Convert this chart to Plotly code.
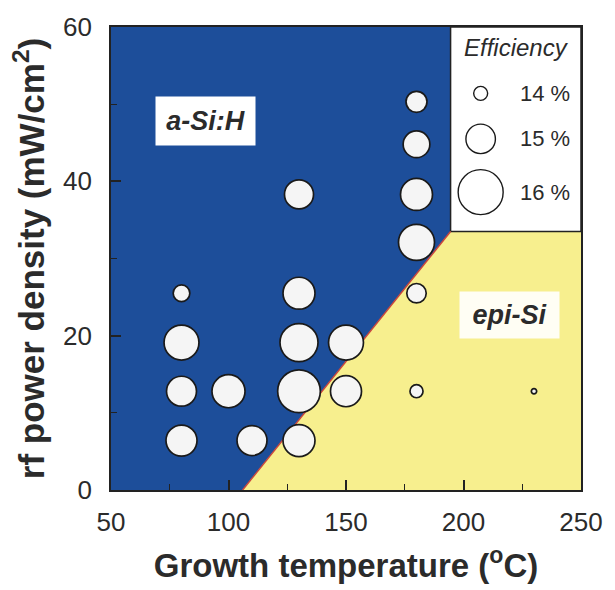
import plotly.graph_objects as go

# ---- data ----
temp_c = [80, 80, 80, 80, 100, 110, 130, 130, 130, 130, 130, 150, 150,
          180, 180, 180, 180, 180, 180, 230]
power = [25.5, 19.1, 12.8, 6.4, 12.8, 6.4, 38.3, 25.5, 19.1, 12.8, 6.4, 19.1, 12.8,
         50.3, 44.8, 38.3, 32.1, 25.5, 12.8, 12.8]
efficiency = [14.17, 15.35, 15.03, 15.10, 15.23, 15.03, 14.97, 15.16, 15.55, 15.85, 15.16,
              15.35, 15.10, 14.45, 14.82, 15.16, 15.42, 14.35, 13.94, 13.44]

legend_eff = [14, 15, 16]
legend_labels = ["14 %", "15 %", "16 %"]

# phase boundary a-Si:H / epi-Si
boundary_x = [106, 194.5]
boundary_y = [0, 33.5]

x_range = [50, 250]
y_range = [0, 60]
x_ticks = [50, 100, 150, 200, 250]
y_ticks = [0, 20, 40, 60]

BLUE = "#1d4e9a"
YELLOW = "#f7ef8e"
FONT = "Liberation Sans, Arial, sans-serif"
TXT = "#2b2b2b"


def size_of(e):
    return 14 + 15.5 * (e - 14)


fig = go.Figure()

# a-Si:H region (blue)
fig.add_trace(go.Scatter(
    x=[x_range[0], boundary_x[0], boundary_x[1], boundary_x[1], x_range[0]],
    y=[y_range[0], boundary_y[0], boundary_y[1], y_range[1], y_range[1]],
    fill="toself", fillcolor=BLUE, mode="lines", line=dict(width=0),
    hoverinfo="skip", showlegend=False))
# epi-Si region (yellow)
fig.add_trace(go.Scatter(
    x=[boundary_x[0], x_range[1], x_range[1], boundary_x[1], boundary_x[0]],
    y=[boundary_y[0], y_range[0], boundary_y[1], boundary_y[1], boundary_y[0]],
    fill="toself", fillcolor=YELLOW, mode="lines", line=dict(width=0),
    hoverinfo="skip", showlegend=False))
# legend box (white)
fig.add_trace(go.Scatter(
    x=[boundary_x[1], x_range[1], x_range[1], boundary_x[1], boundary_x[1]],
    y=[boundary_y[1], boundary_y[1], y_range[1], y_range[1], boundary_y[1]],
    fill="toself", fillcolor="white", mode="lines", line=dict(width=1.5, color="#222"),
    hoverinfo="skip", showlegend=False))
# boundary line (red)
fig.add_trace(go.Scatter(
    x=boundary_x, y=boundary_y, mode="lines",
    line=dict(color="#c9463c", width=1.5), hoverinfo="skip", showlegend=False))

# data bubbles
fig.add_trace(go.Scatter(
    x=temp_c, y=power, mode="markers",
    marker=dict(size=[size_of(e) for e in efficiency], color="#f5f5f5", opacity=1,
                line=dict(color="#1a1a1a", width=1.7)),
    showlegend=False))

# legend bubbles (size key)
legend_x = 207.3
legend_y = [51.4, 45.5, 38.6]
fig.add_trace(go.Scatter(
    x=[legend_x] * 3, y=legend_y, mode="markers",
    marker=dict(size=[size_of(e) for e in legend_eff], color="white", opacity=1,
                line=dict(color="#1a1a1a", width=1.4)),
    showlegend=False, hoverinfo="skip"))

annotations = []
for yy, lab in zip(legend_y, legend_labels):
    annotations.append(dict(x=234.5, y=yy, text=lab, showarrow=False,
                            font=dict(family=FONT, size=22, color=TXT),
                            xanchor="center", yanchor="middle"))
annotations.append(dict(x=222.5, y=57.3, text="<i>Efficiency</i>", showarrow=False,
                        font=dict(family=FONT, size=24, color=TXT),
                        xanchor="center", yanchor="middle"))
annotations.append(dict(x=90.3, y=47.8, text="<b><i>a-Si:H</i></b>", showarrow=False,
                        font=dict(family=FONT, size=27, color=TXT),
                        bgcolor="white", width=97, height=46,
                        xanchor="center", yanchor="middle"))
annotations.append(dict(x=219.5, y=22.7, text="<b><i>epi-Si</i></b>", showarrow=False,
                        font=dict(family=FONT, size=27, color=TXT),
                        bgcolor="rgba(255,255,255,0.9)", width=97, height=44,
                        xanchor="center", yanchor="middle"))

fig.update_layout(
    width=615, height=590,
    margin=dict(l=111, r=27, t=17, b=100),
    paper_bgcolor="white", plot_bgcolor="white",
    annotations=annotations,
    showlegend=False,
    font=dict(family=FONT, color=TXT),
)
fig.update_xaxes(
    range=x_range, tickvals=x_ticks, ticks="inside", ticklen=10, tickwidth=1.5,
    tickcolor="#222", showgrid=False, zeroline=False,
    showline=True, linecolor="#222", linewidth=1.8, mirror=True,
    tickfont=dict(family=FONT, size=26, color=TXT), ticklabelstandoff=8,
    minor=dict(ticks="inside", ticklen=6, tickwidth=1.3, tickcolor="#222",
               tickvals=[75, 125, 175, 225], showgrid=False),
    title=dict(text="<b>Growth temperature (<sup>o</sup>C)</b>",
               font=dict(family=FONT, size=33, color=TXT), standoff=18),
)
fig.update_yaxes(
    range=y_range, tickvals=y_ticks, ticks="inside", ticklen=10, tickwidth=1.5,
    tickcolor="#222", showgrid=False, zeroline=False,
    showline=True, linecolor="#222", linewidth=1.8, mirror=True,
    tickfont=dict(family=FONT, size=26, color=TXT), ticklabelstandoff=12,
    minor=dict(ticks="inside", ticklen=6, tickwidth=1.3, tickcolor="#222",
               tickvals=[10, 30, 50], showgrid=False),
    title=dict(text="<b>rf power density (mW/cm<sup>2</sup>)</b>",
               font=dict(family=FONT, size=35, color=TXT), standoff=8),
)

fig.write_html("out.html")
